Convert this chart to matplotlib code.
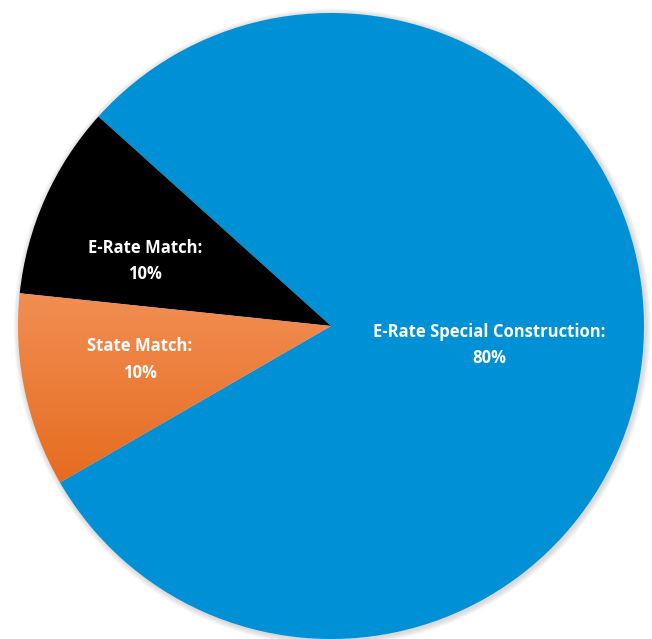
import numpy as np
import matplotlib.pyplot as plt
from matplotlib.patches import Circle
from matplotlib.colors import LinearSegmentedColormap

# Parts du financement
labels = ["E-Rate Special Construction:", "E-Rate Match:", "State Match:"]
values = [80, 10, 10]
colors = ["#0090d5", "#000000", "#ee7d36"]

# Position des étiquettes (angle en degrés, distance au centre)
label_pos = [(-6.8, 0.51), (160.7, 0.63), (190.0, 0.62)]

fig = plt.figure(figsize=(6.52, 6.39), dpi=100)
ax = fig.add_axes([0, 0, 1, 1])

# Ombre légère autour du disque
for k in range(6):
    ax.add_patch(Circle((0.004, -0.004), 1.0 + 0.003 * (k + 1), color="grey",
                        alpha=0.05, lw=0, zorder=0))

wedges, _ = ax.pie(values, colors=colors, startangle=210, counterclock=True,
                   radius=1.0, wedgeprops=dict(linewidth=0))

# Dégradé sur la part orange
orange = wedges[2]
orange.set_facecolor("none")
cmap = LinearSegmentedColormap.from_list("orange", ["#e4691a", "#f28f55"])
grad = np.linspace(0, 1, 256).reshape(-1, 1)
img = ax.imshow(grad, cmap=cmap, origin="lower", aspect="auto",
                extent=(-1.0, 0.0, -0.55, 0.12), zorder=orange.get_zorder())
img.set_clip_path(orange)

for lab, val, (ang, r) in zip(labels, values, label_pos):
    a = np.deg2rad(ang)
    ax.text(r * np.cos(a), r * np.sin(a), f"{lab}\n{val}%", ha="center", va="center",
            color="white", fontsize=12, fontweight="bold",
            family=["Open Sans", "DejaVu Sans"], linespacing=1.6, zorder=5)

ax.set_xlim(-1.0575, 1.0256)
ax.set_ylim(-1.0, 1.0415)
ax.set_aspect("auto")
ax.axis("off")

fig.savefig("out.png", dpi=100, facecolor="white")
